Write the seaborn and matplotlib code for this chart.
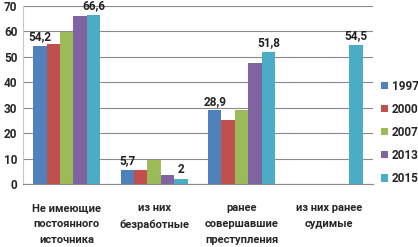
import numpy as np
import pandas as pd
import matplotlib
matplotlib.use('Agg')
import matplotlib.pyplot as plt
import seaborn as sns

categories = ['Не имеющие\nпостоянного\nисточника', 'из них\nбезработные',
              'ранее\nсовершавшие\nпреступления', 'из них ранее\nсудимые']
years = ['1997', '2000', '2007', '2013', '2015']
v1997 = [54.2, 5.7, 28.9, 0]
v2000 = [55.0, 5.5, 25.3, 0]
v2007 = [59.8, 9.5, 29.1, 0]
v2013 = [65.9, 3.5, 47.7, 0]
v2015 = [66.6, 2.0, 51.8, 54.5]
point_labels = {
    '1997': ['54,2', '5,7', '28,9', ''],
    '2015': ['66,6', '2', '51,8', '54,5'],
}
colors = ['#4F81BD', '#C0504D', '#9BBB59', '#8064A2', '#4BACC6']

rows = []
for yr, vals in zip(years, [v1997, v2000, v2007, v2013, v2015]):
    for cat, v in zip(categories, vals):
        rows.append({'cat': cat, 'year': yr, 'value': v})
df = pd.DataFrame(rows)

sns.set_style('white')
plt.rcParams['font.family'] = ['Roboto', 'DejaVu Sans']
plt.rcParams['font.weight'] = 'bold'

fig = plt.figure(figsize=(4.18, 2.47), dpi=100)
ax = fig.add_axes([0.055, 0.255, 0.837, 0.721])

sns.barplot(data=df, x='cat', y='value', hue='year', order=categories,
            hue_order=years, palette=colors, width=0.77, linewidth=0,
            saturation=1, ax=ax)

for cont, yr in zip(ax.containers, years):
    if yr in point_labels:
        ax.bar_label(cont, labels=point_labels[yr], padding=2,
                     fontsize=8.5, fontweight='bold', color='#222222')

ax.set_ylim(0, 70)
ax.set_yticks(range(0, 71, 10))
ax.set_xlim(-0.5, 3.5)
ax.yaxis.grid(True, color='#8a8a8a', linewidth=0.8)
ax.set_axisbelow(True)
for s in ['top', 'right']:
    ax.spines[s].set_visible(False)
ax.spines['left'].set_color('#c8c8c8')
ax.spines['bottom'].set_color('#8a8a8a')
ax.set_xlabel('')
ax.set_ylabel('')
ax.tick_params(axis='y', length=0, labelsize=8.5, pad=4)
ax.tick_params(axis='x', which='major', length=0, labelsize=8, pad=14)
ax.set_xticks([-0.5, 0.5, 1.5, 2.5, 3.5], minor=True)
ax.tick_params(axis='x', which='minor', length=4, color='#8a8a8a')
for t in ax.get_xticklabels():
    t.set_linespacing(1.75)
    t.set_fontweight('bold')
for t in ax.get_yticklabels():
    t.set_fontweight('bold')

ax.legend(loc='center left', bbox_to_anchor=(1.01, 0.29), frameon=False,
          fontsize=8.5, handlelength=0.6, handleheight=0.6,
          handletextpad=0.3, labelspacing=0.85, borderaxespad=0)

fig.savefig('out.png', dpi=100)
